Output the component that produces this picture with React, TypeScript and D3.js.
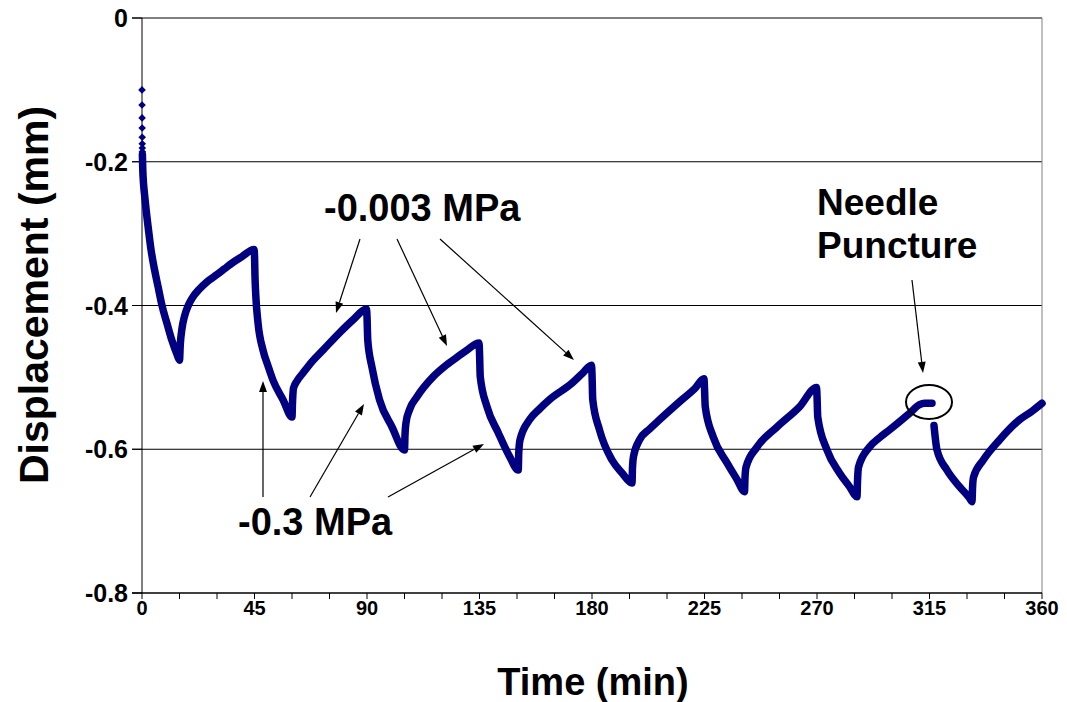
import React from "react";
import * as d3 from "d3";

// ---- Data ----
const xTicksLabeled = [0, 45, 90, 135, 180, 225, 270, 315, 360];
const xTicksMinor = d3.range(0, 361, 15);
const yTicks = [0, -0.2, -0.4, -0.6, -0.8];
const yTickLabels = ["0", "-0.2", "-0.4", "-0.6", "-0.8"];
const yGrid = [0, -0.2, -0.4, -0.6];

// first sparse samples at t≈0 (drawn as separate markers)
const startSamples: [number, number][] = [
  [0, -0.1], [0.02, -0.121], [0.04, -0.139], [0.06, -0.153],
  [0.08, -0.166], [0.1, -0.175], [0.12, -0.181], [0.14, -0.186],
];

// displacement (mm) vs time (min) before the needle puncture
const beforePuncture: [number, number][] = [
  [0.16, -0.19], [0.3, -0.21], [0.6, -0.23], [1.0, -0.245], [1.5, -0.262], [2.5, -0.292], [3.6, -0.322], [5, -0.35], [6.5, -0.375], [8, -0.4], [10, -0.425], [12, -0.449], [14, -0.468], [15, -0.476],
  [15.3, -0.455], [16, -0.432], [17, -0.415], [18.5, -0.4], [20, -0.39], [23, -0.377], [26, -0.367], [30, -0.357], [33, -0.349], [36, -0.341], [40, -0.332], [44.8, -0.322],
  [45, -0.33], [45.2, -0.36], [45.5, -0.385], [46.4, -0.424], [48.4, -0.462], [50.5, -0.485], [52.4, -0.504], [56.4, -0.531], [60, -0.555],
  [60.2, -0.535], [60.6, -0.515], [62, -0.505], [64.4, -0.494], [68, -0.478], [72.4, -0.462], [79, -0.438], [84.4, -0.42], [89.8, -0.405],
  [90, -0.415], [90.3, -0.448], [92, -0.486], [95, -0.531], [100, -0.569], [105, -0.601],
  [105.2, -0.58], [105.6, -0.563], [107, -0.545], [110, -0.527], [116.5, -0.499], [121, -0.485], [126, -0.472], [130, -0.462], [134.8, -0.452],
  [135, -0.465], [135.3, -0.499], [138, -0.541], [142.5, -0.577], [147, -0.61], [150.5, -0.629],
  [150.7, -0.605], [151.2, -0.587], [155, -0.559], [159, -0.544], [163, -0.531], [172, -0.508], [176, -0.495], [179.8, -0.483],
  [180, -0.495], [180.3, -0.531], [183, -0.573], [188, -0.615], [192, -0.633], [196, -0.647],
  [196.2, -0.625], [196.6, -0.61], [199, -0.587], [203, -0.572], [207, -0.559], [216, -0.531], [221, -0.516], [224.8, -0.502],
  [225, -0.515], [225.3, -0.541], [228.5, -0.583], [234, -0.619], [238, -0.642], [241, -0.659],
  [241.2, -0.64], [241.6, -0.625], [246, -0.597], [254, -0.569], [263, -0.541], [269.8, -0.514],
  [270, -0.525], [270.3, -0.555], [274, -0.601], [279, -0.633], [283, -0.652], [286, -0.666],
  [286.2, -0.645], [286.6, -0.625], [291, -0.597], [295, -0.584], [299, -0.573], [307, -0.55], [311, -0.538], [313, -0.536], [316, -0.536],
];

// after the needle puncture
const afterPuncture: [number, number][] = [
  [316.8, -0.567], [318, -0.601], [322, -0.629], [327, -0.652], [331, -0.668], [332, -0.673],
  [332.2, -0.655], [332.6, -0.639], [336.5, -0.615], [343, -0.587], [351, -0.559], [356, -0.547], [360, -0.536],
];

const NAVY = "#000080";
const FONT = "'Liberation Sans', Arial, Helvetica, sans-serif";

export default function App() {
  const x = d3.scaleLinear().domain([0, 360]).range([142, 1042]);
  const y = d3.scaleLinear().domain([-0.8, 0]).range([593, 18]);
  const line = d3
    .line<[number, number]>()
    .x((d) => x(d[0]))
    .y((d) => y(d[1]))
    .curve(d3.curveMonotoneX);

  const diamond = (r: number) => `M0,${-r}L${r},0L0,${r}L${-r},0Z`;

  const arrow = (x1: number, y1: number, x2: number, y2: number, key: string) => {
    const ang = Math.atan2(y2 - y1, x2 - x1);
    const L = 11, W = 4;
    const bx = x2 - L * Math.cos(ang), by = y2 - L * Math.sin(ang);
    const px = -Math.sin(ang) * W, py = Math.cos(ang) * W;
    return (
      <g key={key}>
        <line x1={x1} y1={y1} x2={bx} y2={by} stroke="#000" strokeWidth={1.2} />
        <path d={`M${x2},${y2}L${bx + px},${by + py}L${bx - px},${by - py}Z`} fill="#000" />
      </g>
    );
  };

  return (
    <svg width={1067} height={702} style={{ position: "absolute", left: 0, top: 0, background: "#fff" }}>
      <rect width={1067} height={702} fill="#fff" />
      {/* grid lines */}
      {yGrid.map((v) => (
        <line key={"g" + v} x1={132} x2={1042} y1={y(v)} y2={y(v)} stroke="#000" strokeWidth={1} />
      ))}
      {/* right border */}
      <line x1={1042} x2={1042} y1={18} y2={593} stroke="#808080" strokeWidth={1} />
      {/* y axis */}
      <line x1={142} x2={142} y1={18} y2={593} stroke="#000" strokeWidth={1} />
      {yTicks.map((v) => (
        <line key={"yt" + v} x1={132} x2={142} y1={y(v)} y2={y(v)} stroke="#000" strokeWidth={1} />
      ))}
      {yTicks.map((v, i) => (
        <text key={"yl" + v} x={128} y={y(v)} dy="0.36em" textAnchor="end" fontFamily={FONT} fontWeight="bold" fontSize={25} fill="#000">
          {yTickLabels[i]}
        </text>
      ))}
      {/* x axis */}
      <line x1={132} x2={1042} y1={593} y2={593} stroke="#000" strokeWidth={1.3} />
      {xTicksMinor.map((t) => (
        <line key={"xt" + t} x1={x(t)} x2={x(t)} y1={593} y2={599} stroke="#000" strokeWidth={1} />
      ))}
      {xTicksLabeled.map((t) => (
        <text key={"xl" + t} x={x(t)} y={615} textAnchor="middle" fontFamily={FONT} fontWeight="bold" fontSize={20} fill="#000">
          {t}
        </text>
      ))}
      {/* axis titles */}
      <text x={593} y={695} textAnchor="middle" fontFamily={FONT} fontWeight="bold" fontSize={38} fill="#000">
        Time (min)
      </text>
      <text transform="translate(48,295) rotate(-90)" textAnchor="middle" fontFamily={FONT} fontWeight="bold" fontSize={41} fill="#000">
        Displacement (mm)
      </text>

      {/* data */}
      <path d={line(beforePuncture) || ""} fill="none" stroke={NAVY} strokeWidth={7.5} strokeLinejoin="round" strokeLinecap="round" />
      <path d={line(afterPuncture) || ""} fill="none" stroke={NAVY} strokeWidth={7.5} strokeLinejoin="round" strokeLinecap="round" />
      {startSamples.map((d, i) => (
        <path key={"s" + i} d={diamond(3.8)} transform={`translate(${x(d[0])},${y(d[1])})`} fill={NAVY} />
      ))}

      {/* annotations */}
      <text x={324} y={221} fontFamily={FONT} fontWeight="bold" fontSize={38} fill="#000">-0.003 MPa</text>
      <text x={817} y={215} fontFamily={FONT} fontWeight="bold" fontSize={37} fill="#000">Needle</text>
      <text x={817} y={258} fontFamily={FONT} fontWeight="bold" fontSize={37} fill="#000">Puncture</text>
      <text x={238} y={535} fontFamily={FONT} fontWeight="bold" fontSize={38} fill="#000">-0.3 MPa</text>
      {arrow(360, 239, 336, 313, "a1")}
      {arrow(397, 239, 447, 346, "a2")}
      {arrow(440, 239, 574, 360, "a3")}
      {arrow(912, 280, 923, 373, "a4")}
      {arrow(263, 497, 263, 381, "b1")}
      {arrow(310, 497, 364, 404, "b2")}
      {arrow(388, 497, 484, 444, "b3")}
      <ellipse cx={929} cy={402} rx={23} ry={17} fill="none" stroke="#000" strokeWidth={2} />
    </svg>
  );
}
